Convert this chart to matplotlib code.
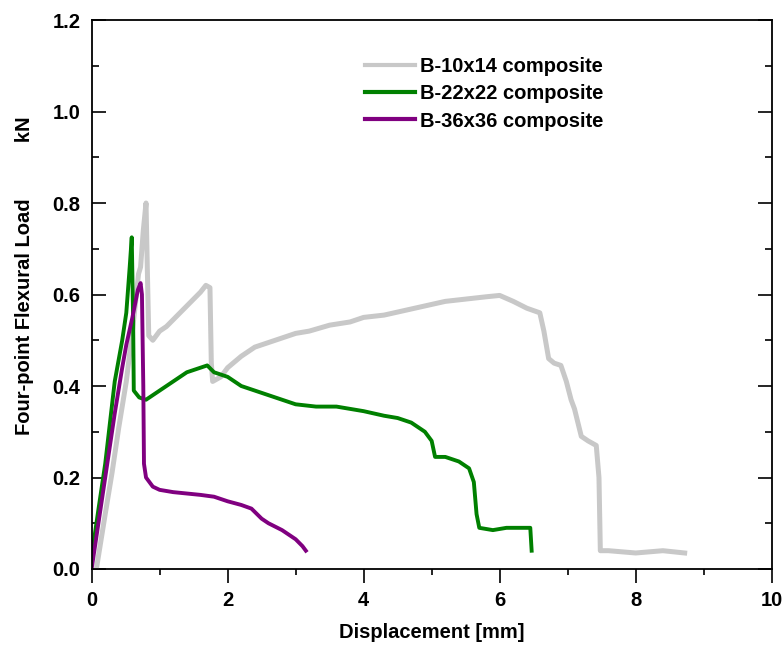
import matplotlib.pyplot as plt
from matplotlib.ticker import MultipleLocator

plt.rcParams['font.family'] = ['Liberation Sans', 'DejaVu Sans']
plt.rcParams['font.weight'] = 'bold'

# ================= Daten =================
x_10x14 = [0.07, 0.20, 0.30, 0.40, 0.51, 0.60, 0.69, 0.72, 0.76, 0.80, 0.82, 0.84,
           0.90, 1.00, 1.10, 1.20, 1.30, 1.40, 1.50, 1.60, 1.68, 1.74, 1.76, 1.78,
           1.90, 2.00, 2.20, 2.40, 2.60, 2.80, 3.00, 3.20, 3.50, 3.80, 4.00, 4.30,
           4.60, 4.90, 5.20, 5.50, 5.80, 6.00, 6.20, 6.40, 6.59, 6.65, 6.72, 6.80,
           6.90, 6.98, 7.05, 7.10, 7.20, 7.30, 7.42, 7.46, 7.48, 7.60, 8.00, 8.40, 8.72]
y_10x14 = [0.00, 0.12, 0.21, 0.31, 0.41, 0.52, 0.645, 0.66, 0.74, 0.80, 0.65, 0.51,
           0.50, 0.52, 0.53, 0.545, 0.56, 0.575, 0.59, 0.605, 0.62, 0.615, 0.45, 0.41,
           0.42, 0.44, 0.465, 0.485, 0.495, 0.505, 0.515, 0.52, 0.533, 0.54, 0.55, 0.555,
           0.565, 0.575, 0.585, 0.59, 0.595, 0.598, 0.585, 0.57, 0.56, 0.52, 0.46, 0.45,
           0.445, 0.41, 0.37, 0.35, 0.29, 0.28, 0.27, 0.20, 0.04, 0.04, 0.035, 0.04, 0.035]

x_22x22 = [0.00, 0.10, 0.20, 0.34, 0.45, 0.51, 0.56, 0.59, 0.61, 0.62, 0.70, 0.80,
           0.90, 1.00, 1.20, 1.40, 1.60, 1.70, 1.80, 2.00, 2.20, 2.50, 2.80, 3.00,
           3.30, 3.60, 4.00, 4.30, 4.50, 4.70, 4.90, 5.00, 5.05, 5.20, 5.40, 5.55,
           5.62, 5.66, 5.70, 5.90, 6.10, 6.30, 6.45, 6.47]
y_22x22 = [0.027, 0.13, 0.23, 0.41, 0.50, 0.56, 0.66, 0.725, 0.55, 0.39, 0.375, 0.37,
           0.38, 0.39, 0.41, 0.43, 0.44, 0.445, 0.43, 0.42, 0.40, 0.385, 0.37, 0.36,
           0.355, 0.355, 0.345, 0.335, 0.33, 0.32, 0.30, 0.28, 0.245, 0.245, 0.235, 0.22,
           0.19, 0.12, 0.09, 0.085, 0.09, 0.09, 0.09, 0.04]

x_36x36 = [0.00, 0.10, 0.20, 0.34, 0.45, 0.51, 0.60, 0.68, 0.72, 0.74, 0.76, 0.77,
           0.80, 0.90, 1.00, 1.20, 1.40, 1.60, 1.80, 2.00, 2.20, 2.35, 2.50, 2.60,
           2.80, 3.00, 3.10, 3.15]
y_36x36 = [0.00, 0.10, 0.20, 0.34, 0.44, 0.49, 0.55, 0.61, 0.625, 0.60, 0.40, 0.23,
           0.20, 0.18, 0.173, 0.168, 0.165, 0.162, 0.158, 0.148, 0.14, 0.132, 0.11, 0.10,
           0.085, 0.065, 0.05, 0.04]

labels = ["B-10x14 composite", "B-22x22 composite", "B-36x36 composite"]

# ================= Plot =================
fig = plt.figure(figsize=(7.83, 6.46), dpi=100)
ax = fig.add_axes([0.117, 0.1192, 0.8686, 0.8498])

ax.plot(x_10x14, y_10x14, color="#c8c8c8", lw=3.6, label=labels[0])
ax.plot(x_22x22, y_22x22, color="#008000", lw=2.8, label=labels[1])
ax.plot(x_36x36, y_36x36, color="#800080", lw=2.8, label=labels[2])

ax.set_xlim(0, 10)
ax.set_ylim(0, 1.2)
ax.xaxis.set_major_locator(MultipleLocator(2))
ax.xaxis.set_minor_locator(MultipleLocator(1))
ax.yaxis.set_major_locator(MultipleLocator(0.2))
ax.yaxis.set_minor_locator(MultipleLocator(0.1))
ax.yaxis.set_major_formatter(plt.FormatStrFormatter("%.1f"))

ax.tick_params(axis="x", which="both", direction="out", top=False, labelsize=14.5, pad=6)
ax.tick_params(axis="x", which="major", length=10, width=1.2)
ax.tick_params(axis="x", which="minor", length=4, width=1.2)
ax.tick_params(axis="y", which="both", direction="in", right=True, labelsize=14.5, pad=8)
ax.tick_params(axis="y", which="major", length=10, width=1.2)
ax.tick_params(axis="y", which="minor", length=5, width=1.2)
for s in ax.spines.values():
    s.set_linewidth(1.3)

ax.set_xlabel("Displacement [mm]", fontsize=14.5, fontweight="bold", labelpad=9.5)
ax.set_ylabel("Four-point Flexural Load          kN", fontsize=14.5, fontweight="bold",
              labelpad=13, y=0.535)

leg = ax.legend(loc="upper left", bbox_to_anchor=(0.39, 0.948), frameon=False,
                fontsize=14.5, handlelength=2.5, handletextpad=0.25, labelspacing=0.42,
                borderaxespad=0)
for h in leg.get_lines():
    h.set_linewidth(3.0)

fig.savefig("out.png", dpi=100)
plt.close()
